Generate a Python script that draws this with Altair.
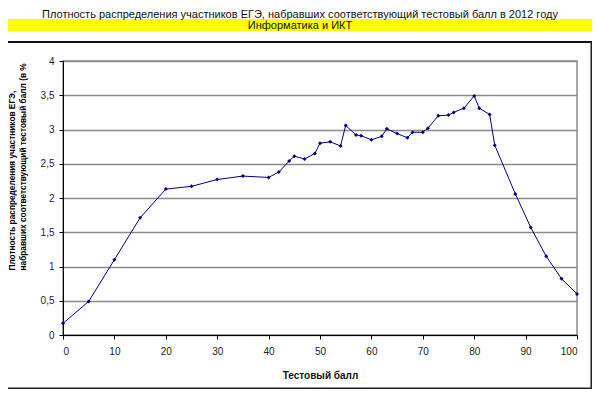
import altair as alt
import pandas as pd

scores = [0, 5, 10, 15, 20, 25, 30, 35, 40, 42, 44, 45, 47, 49, 50, 52, 54, 55, 57, 58,
          60, 62, 63, 65, 67, 68, 70, 71, 73, 75, 76, 78, 80, 81, 83, 84, 88, 91, 94, 97, 100]
density = [0.17, 0.49, 1.10, 1.71, 2.13, 2.17, 2.27, 2.32, 2.30, 2.38, 2.54, 2.61, 2.57, 2.65,
           2.80, 2.82, 2.76, 3.06, 2.92, 2.91, 2.85, 2.90, 3.01, 2.94, 2.88, 2.96, 2.96, 3.02,
           3.20, 3.21, 3.25, 3.31, 3.49, 3.31, 3.22, 2.77, 2.06, 1.57, 1.15, 0.82, 0.60]

x_ticks = [0, 10, 20, 30, 40, 50, 60, 70, 80, 90, 100]
y_ticks = [0, 0.5, 1, 1.5, 2, 2.5, 3, 3.5, 4]

title_main = "Плотность распределения участников ЕГЭ, набравших соответствующий тестовый балл в 2012 году"
title_sub = "Информатика и ИКТ"
x_title = "Тестовый балл"
y_title = ["Плотность распределения участников ЕГЭ,", "набравших соответствующий тестовый балл (в %"]

df = pd.DataFrame({"score": scores, "density": density})
one = pd.DataFrame({"a": [0]})

FONT = "Liberation Sans"
W, H = 514, 274
NAVY = "#000080"

x_enc = alt.X("score:Q",
              scale=alt.Scale(domain=[0, 100], nice=False, zero=False),
              axis=alt.Axis(values=x_ticks, grid=False, domainColor="black", tickColor="black",
                            tickSize=4, labelFont=FONT, labelFontSize=10, labelColor="#222",
                            labelPadding=7, title=x_title, titleFont=FONT, titleFontSize=10,
                            titleFontWeight="bold", titleColor="#111", titlePadding=14))
y_enc = alt.Y("density:Q",
              scale=alt.Scale(domain=[0, 4], nice=False),
              axis=alt.Axis(values=y_ticks, grid=True, gridColor="#8a8a8a", gridWidth=1.5,
                            domainColor="black", tickColor="black", tickSize=4,
                            labelFont=FONT, labelFontSize=10, labelColor="#222", labelPadding=5,
                            labelOverlap=False,
                            labelExpr="replace(format(datum.value, '.1~f'), '.', ',')",
                            title=y_title, titleFont=FONT, titleFontSize=8.3,
                            titleFontWeight="bold", titleColor="#000", titleAngle=-90,
                            titleLineHeight=11,
                            titleX=-51, titleY=209, titleAlign="left", titleBaseline="middle"))

base = alt.Chart(df).encode(x=x_enc, y=y_enc)
line = base.mark_line(color=NAVY, strokeWidth=1)
pts = base.mark_point(color=NAVY, filled=True, shape="diamond", size=16, opacity=1)

band = alt.Chart(one).mark_rect(color="#ffff00").encode(
    x=alt.value(-70), x2=alt.value(540), y=alt.value(-42), y2=alt.value(-30))
border_top = alt.Chart(one).mark_rect(color="#111").encode(
    x=alt.value(-70), x2=alt.value(530), y=alt.value(-20), y2=alt.value(-18))
border_bottom = alt.Chart(one).mark_rect(color="#222").encode(
    x=alt.value(-70), x2=alt.value(530), y=alt.value(326.5), y2=alt.value(328))
border_right = alt.Chart(one).mark_rect(color="#222").encode(
    x=alt.value(527.5), x2=alt.value(529), y=alt.value(-20), y2=alt.value(328))
t1 = alt.Chart(one).mark_text(text=title_main, font=FONT, fontSize=11, color="#111",
                              align="center", baseline="middle").encode(
    x=alt.value(237), y=alt.value(-46.5))
t2 = alt.Chart(one).mark_text(text=title_sub, font=FONT, fontSize=11, color="#111",
                              align="center", baseline="middle").encode(
    x=alt.value(237), y=alt.value(-35.5))

chart = alt.layer(band, border_top, border_bottom, border_right, t1, t2, line, pts).properties(
    width=W, height=H,
    autosize=alt.AutoSizeParams(type="none"),
    padding={"left": 55, "top": 53, "right": 15, "bottom": 58},
    background="white",
).configure_view(stroke="#8a8a8a", strokeWidth=1.5)

chart.save("out.html", embed_options={"renderer": "svg", "actions": False})
